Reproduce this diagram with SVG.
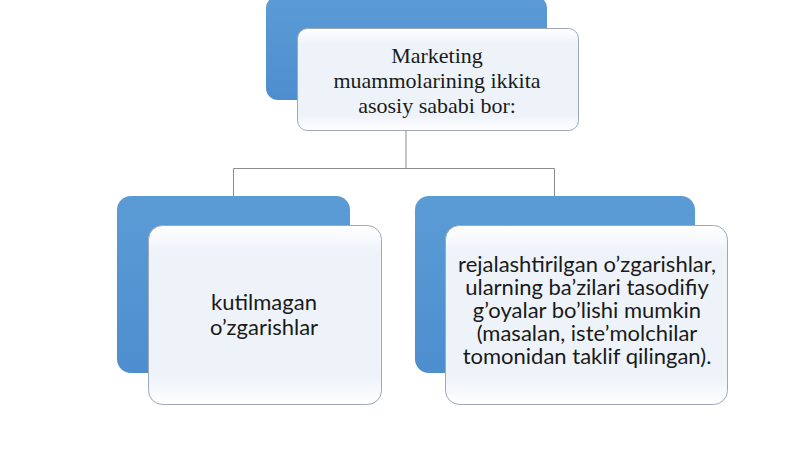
<svg xmlns="http://www.w3.org/2000/svg" width="800" height="449" viewBox="0 0 800 449">
<defs>
<linearGradient id="bl" x1="0" y1="0" x2="0" y2="1"><stop offset="0" stop-color="#5B9BD5"/><stop offset="1" stop-color="#4E8ECF"/></linearGradient>
<linearGradient id="wh" x1="0" y1="0" x2="0" y2="1"><stop offset="0" stop-color="#FFFFFF"/><stop offset="0.15" stop-color="#EEF3FA"/><stop offset="0.85" stop-color="#EEF3FA"/><stop offset="1" stop-color="#FFFFFF"/></linearGradient>
<style>
.back{fill:url(#bl);stroke:none}
.front{fill:url(#wh);stroke:#9FA8B6;stroke-width:1}
.conn{fill:none;stroke:#8C8C8C;stroke-width:1}
.serif{font-family:"Liberation Serif","Times New Roman",serif;font-size:22px;fill:#1A1A1A;text-anchor:middle}
.sans{font-family:Lato,"Liberation Sans",sans-serif;font-size:22px;fill:#1A1A1A;text-anchor:middle}
</style>
</defs>
<rect width="800" height="449" fill="#FFFFFF"/>
<g id="connectors">
<path class="conn" d="M406,131 V168.5 M233.5,196 V168.5 H554.5 V196"/>
</g>
<g id="node-root">
<rect class="back" x="266" y="-4" width="281" height="104" rx="12"/>
<rect class="front" x="297.5" y="28.5" width="281" height="102" rx="10"/>
<text class="serif" x="437" y="63">Marketing</text>
<text class="serif" x="437" y="88">muammolarining ikkita</text>
<text class="serif" x="437" y="113">asosiy sababi bor:</text>
</g>
<g id="node-left">
<rect class="back" x="117" y="196" width="233" height="177" rx="14"/>
<rect class="front" x="148.5" y="225.5" width="233" height="179" rx="14"/>
<text class="sans" x="264" y="310">kutilmagan</text>
<text class="sans" x="264" y="335">o’zgarishlar</text>
</g>
<g id="node-right">
<rect class="back" x="415" y="196" width="280" height="177" rx="14"/>
<rect class="front" x="445.5" y="225.5" width="282" height="179" rx="14"/>
<text class="sans" x="587" y="272">rejalashtirilgan o’zgarishlar,</text>
<text class="sans" x="587" y="295">ularning ba’zilari tasodifiy</text>
<text class="sans" x="587" y="318">g’oyalar bo’lishi mumkin</text>
<text class="sans" x="587" y="341">(masalan, iste’molchilar</text>
<text class="sans" x="587" y="364">tomonidan taklif qilingan).</text>
</g>
</svg>
